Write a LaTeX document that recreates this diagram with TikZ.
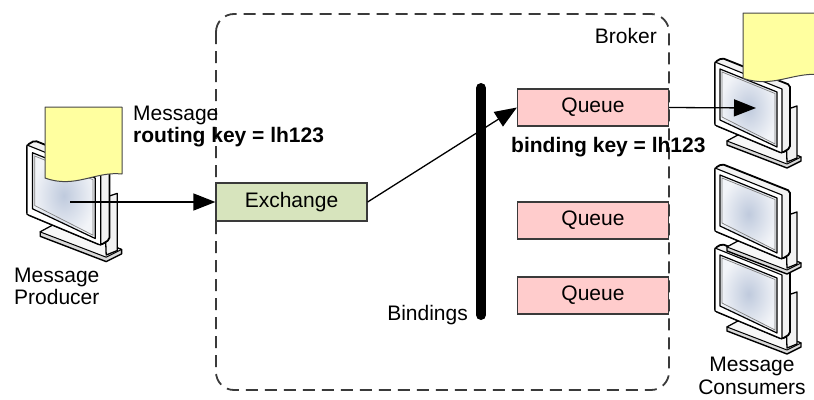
\documentclass[tikz,border=0pt]{standalone}
\usepackage{fontspec}
\setmainfont{Liberation Sans}
\usetikzlibrary{arrows.meta}

\definecolor{exfill}{HTML}{D7E4BD}
\definecolor{qfill}{HTML}{FFCCCC}
\definecolor{paper}{HTML}{FFFF9F}
\definecolor{frame}{HTML}{3A3A3A}
\definecolor{scrin}{HTML}{BFCADD}
\definecolor{scrout}{HTML}{F2F4F8}

\tikzset{
  txt/.style={inner sep=0pt, font=\fontsize{21}{24}\selectfont},
  btxt/.style={inner sep=0pt, font=\fontsize{21}{24}\selectfont\bfseries},
  box/.style={draw=frame, line width=1.2pt, minimum width=151pt,
              minimum height=37pt, inner sep=0pt, font=\fontsize{21}{24}\selectfont},
  flow/.style={line width=1.3pt, -{Triangle[length=22pt,width=17pt]}},
  % flat-panel monitor, origin at the top-left corner of its front face
  monitor/.pic={
    % base plate
    \filldraw[fill=gray!30, line width=1.4pt, line join=round]
      (12,79) -- (25,72) -- (86,95) -- (86,99) -- (72,106) -- (12,83) -- cycle;
    \filldraw[fill=gray!6, line width=1pt, line join=round]
      (12,79) -- (25,72) -- (86,95) -- (72,102) -- cycle;
    % neck
    \filldraw[fill=gray!10, line width=1.3pt, line join=round]
      (70,48) -- (82,44) -- (82,96) -- (72,100) -- cycle;
    % shell
    \filldraw[fill=gray!10, line width=1.8pt, line join=round, rounded corners=2pt]
      (0,0) -- (7,-4) -- (75,23) -- (75,86) -- (67,91) -- (0,63) -- cycle;
    % front frame
    \filldraw[fill=white, line width=1.1pt, line join=round]
      (0,0) -- (67,27) -- (67,91) -- (0,63) -- cycle;
    % screen
    \shade[inner color=scrin, outer color=scrout]
      (5,7) -- (62,30) -- (62,85) -- (5,58) -- cycle;
    \draw[line width=1.2pt, line join=round]
      (5,7) -- (62,30) -- (62,85) -- (5,58) -- cycle;
    \draw[gray, line width=0.7pt]
      (7,10) -- (60,31.5) -- (60,82) -- (7,55) -- cycle;
  },
  % document sheet with a wavy lower edge
  sheet/.pic={
    \filldraw[fill=paper, draw=gray!55!black, line width=1pt, line join=round]
      (0,0) -- (77,0) -- (77,67) .. controls (50,64) and (30,82) .. (0,71) -- cycle;
  }
}

\begin{document}
\begin{tikzpicture}[x=1pt, y=-1pt]
  \useasboundingbox (0,0) rectangle (814,399);

  % broker boundary
  \draw[draw=frame, line width=1.8pt, dash pattern=on 12pt off 7pt, rounded corners=18pt]
    (216,14) rectangle (669,390);
  \node[txt, anchor=base east] (broker) at (657,43) {Broker};

  % producer
  \pic at (27,145) [scale=1.1] {monitor};
  \pic at (45,107) {sheet};
  \coordinate (ps) at (70,202);
  \node[txt, anchor=base west] (msg) at (133,120) {Message};
  \node[btxt, anchor=base west] (rk) at (133,142) {routing key = lh123};
  \node[txt, anchor=base west] (p1) at (14,282) {Message};
  \node[txt, anchor=base west] (p2) at (14,304) {Producer};

  % exchange
  \node[box, fill=exfill, minimum width=151pt, minimum height=38pt] (ex) at (291.5,202) {Exchange};

  % bindings bar
  \coordinate (bt) at (481,88);
  \coordinate (bb) at (481,315);
  \draw[line width=10pt, line cap=round] (bt) -- (bb);
  \node[txt, anchor=base east] (bl) at (468,320) {Bindings};

  % queues
  \node[box, fill=qfill] (q1) at (593,107.5) {Queue};
  \node[box, fill=qfill] (q2) at (593,220.5) {Queue};
  \node[box, fill=qfill] (q3) at (593,295.5) {Queue};
  \node[btxt, anchor=base west] (bk) at (511,152) {binding key = lh123};

  % consumers
  \pic at (715,248) {monitor};
  \pic at (715,168) {monitor};
  \pic at (715,62) {monitor};
  \begin{scope}
    \clip (0,0) rectangle (814,399);
    \pic at (743,13) [yscale=0.92] {sheet};
  \end{scope}
  \coordinate (cs) at (756,108);
  \node[txt, anchor=base] (c1) at (752,371) {Message};
  \node[txt, anchor=base] (c2) at (752,394) {Consumers};

  % message flow
  \draw[flow] (ps) -- (ex.west);
  \draw[flow] (ex.east) -- (q1.west);
  \draw[flow] (q1.east) -- (cs);
\end{tikzpicture}
\end{document}
